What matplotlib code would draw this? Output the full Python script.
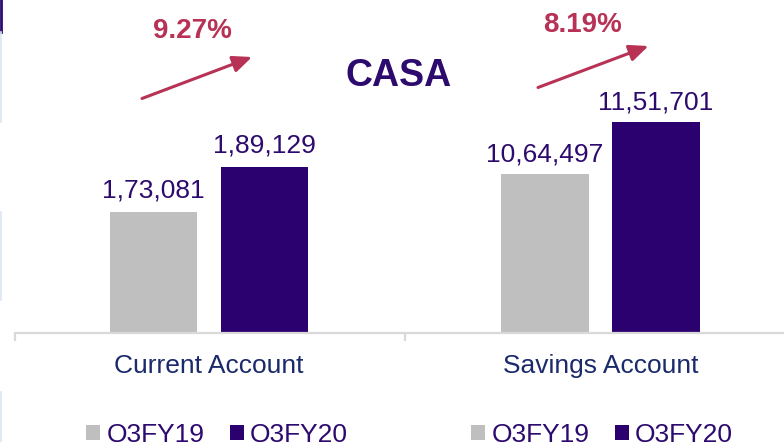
import matplotlib
matplotlib.use("Agg")
import matplotlib.pyplot as plt
from matplotlib.patches import Patch
from matplotlib.lines import Line2D

plt.rcParams['font.family'] = ['Liberation Sans', 'DejaVu Sans']

# ---- data ----
series = ["Q3FY19", "Q3FY20"]
current_account = [173081, 189129]
savings_account = [1064497, 1151701]
categories = ["Current Account", "Savings Account"]
title = "CASA"

def indian_fmt(v):
    s = str(int(v))
    last3 = s[-3:]
    rest = s[:-3]
    groups = []
    while len(rest) > 2:
        groups.insert(0, rest[-2:])
        rest = rest[:-2]
    if rest:
        groups.insert(0, rest)
    return ",".join(groups + [last3])

GRAY = "#BFBFBF"
PURPLE = "#2B006F"
TXT_PURPLE = "#2D0A6E"
NAVY = "#1B2A6B"
CRIMSON = "#B83255"
AXLINE = "#D9D9D9"

W, H = 784, 442
fig = plt.figure(figsize=(W / 100, H / 100), dpi=100)

def px_rect(x0, y_top, x1, y_bottom):
    return [x0 / W, (H - y_bottom) / H, (x1 - x0) / W, (y_bottom - y_top) / H]

panels = [
    dict(rect=px_rect(15, 20, 403, 333), vals=current_account, ylim=(130000, 241600),
         xlim=(-1.25, 2.25), cat=categories[0], pad=7, legx=217 / W),
    dict(rect=px_rect(405, 20, 784, 333), vals=savings_account, ylim=(800000, 1321700),
         xlim=(-1.261, 2.153), cat=categories[1], pad=5.5, legx=602 / W),
]

for p in panels:
    ax = fig.add_axes(p["rect"])
    bars = ax.bar([0, 1], p["vals"], width=0.79, color=[GRAY, PURPLE], zorder=2)
    ax.bar_label(bars, labels=[indian_fmt(v) for v in p["vals"]], padding=p["pad"],
                 fontsize=19, color=TXT_PURPLE)
    ax.set_ylim(*p["ylim"])
    ax.set_xlim(*p["xlim"])
    for s in ["top", "left", "right"]:
        ax.spines[s].set_visible(False)
    ax.spines["bottom"].set_color(AXLINE)
    ax.spines["bottom"].set_linewidth(1.6)
    ax.set_yticks([])
    ax.set_xticks([0.5], [p["cat"]])
    ax.tick_params(axis="x", which="major", length=0, pad=15, labelsize=19, labelcolor=NAVY)
    ax.set_xticks([p["xlim"][0]], minor=True)
    ax.tick_params(axis="x", which="minor", length=6, width=1.6, color=AXLINE)
    ax.patch.set_alpha(0)
    handles = [Patch(facecolor=GRAY), Patch(facecolor=PURPLE)]
    ax.legend(handles, series, loc="center", bbox_to_anchor=(p["legx"], 7 / H),
              bbox_transform=fig.transFigure, ncol=2, frameon=False, fontsize=19,
              handlelength=0.53, handleheight=0.53, handletextpad=0.25,
              columnspacing=0.95, borderpad=0, labelcolor=TXT_PURPLE)

# title
fig.text(398.5 / W, (H - 76.5) / H, title, fontsize=27, fontweight="bold",
         color=TXT_PURPLE, ha="center", va="center")

# growth annotations
growths = [(v[1] / v[0] - 1) * 100 for v in (current_account, savings_account)]
growth_pos = [(192, 30.5), (582.5, 25.5)]
arrows = [((142, 98.5), (252, 57)), ((538, 87.5), (648.5, 46))]
for g, (tx, ty), (a0, a1) in zip(growths, growth_pos, arrows):
    fig.text(tx / W, (H - ty) / H, f"{g:.2f}%", fontsize=20, fontweight="bold",
             color=CRIMSON, ha="center", va="center")
    fig.axes[0].annotate("", xy=(a1[0], H - a1[1]), xytext=(a0[0], H - a0[1]),
                         xycoords="figure pixels", textcoords="figure pixels",
                         arrowprops=dict(arrowstyle="-|>,head_length=1.15,head_width=0.5",
                                         lw=2.2, color=CRIMSON, shrinkA=0, shrinkB=0),
                         annotation_clip=False)

# slide edge decorations
fig.add_artist(Line2D([1 / W, 1 / W], [1, 1 - 32 / H], color="#2D0A6E", lw=2,
                      transform=fig.transFigure))
for y0, y1 in [(32, 122), (212, 300), (392, 442)]:
    fig.add_artist(Line2D([0.5 / W, 0.5 / W], [1 - y0 / H, 1 - y1 / H], color="#DCE6F2",
                          lw=1.2, transform=fig.transFigure))

fig.savefig("out.png", dpi=100)
